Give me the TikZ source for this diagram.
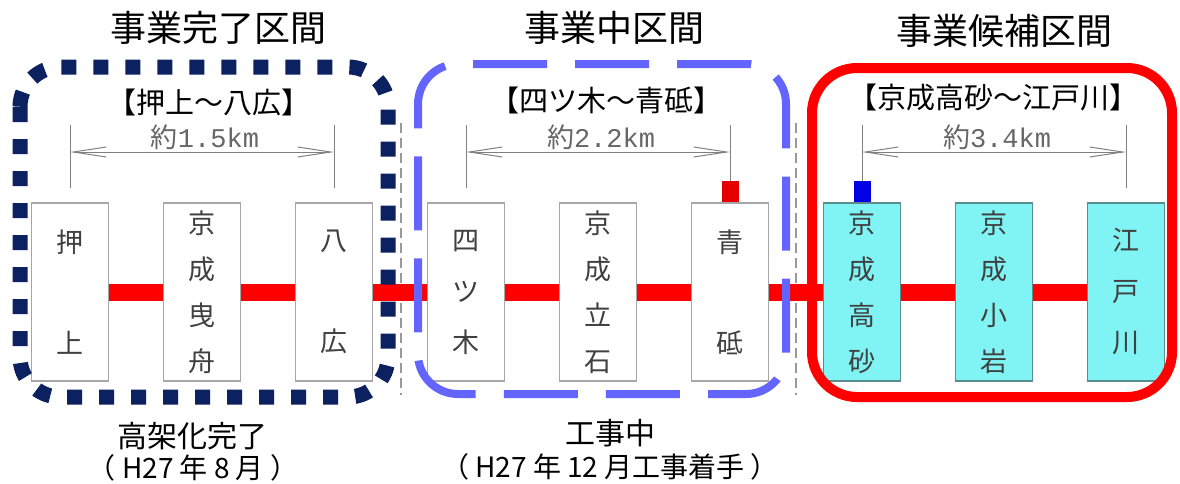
\documentclass[tikz,border=0pt]{standalone}
\usepackage{fontspec}
\setmainfont{Noto Sans CJK JP}
\newfontfamily\numfont{Liberation Mono}
\usetikzlibrary{arrows.meta}
\definecolor{navydot}{HTML}{0B2160}
\definecolor{workblue}{HTML}{6464FF}
\definecolor{candcyan}{HTML}{80F4F4}
\definecolor{candedge}{HTML}{5C8C8C}

\begin{document}
\begin{tikzpicture}[x=1pt,y=-1pt,
  stbox/.style={draw=black!35,line width=1.2pt,minimum width=77pt,minimum height=178pt,inner sep=0pt,align=center,text=black!75,font=\fontsize{27}{32}\selectfont},
  track/.style={red,line width=17pt},
  endsq/.style={draw=none,minimum width=17pt,minimum height=21pt,inner sep=0pt,anchor=south},
  dimline/.style={black!50,line width=1pt},
  dimarrow/.style={dimline,{Straight Barb[length=33pt,width=10pt]}-{Straight Barb[length=33pt,width=10pt]}},
  dimtext/.style={text=black!60,font=\fontsize{27}{30}\selectfont,inner sep=0pt,anchor=base},
  sectitle/.style={font=\fontsize{36}{40}\selectfont,inner sep=0pt},
  subtitle/.style={font=\fontsize{29}{32}\selectfont,inner sep=0pt},
  notetext/.style={font=\fontsize{30}{34}\selectfont,inner sep=0pt},
  datetext/.style={font=\fontsize{28}{32}\selectfont,inner sep=0pt},
  divline/.style={black!40,line width=1.2pt,dash pattern=on 10pt off 5pt}]
\useasboundingbox (0,0) rectangle (1180,483);

\draw[divline] (401,123) -- (401,395);
\draw[divline] (796,123) -- (796,395);

\foreach \n/\x/\t/\f/\d in{
1/70/{押\\[69pt]上}/white/black!35,
2/202/{京\\[14pt]成\\[14pt]曳\\[14pt]舟}/white/black!35,
3/334/{八\\[69pt]広}/white/black!35,
4/466/{四\\[19pt]ツ\\[19pt]木}/white/black!35,
5/598/{京\\[14pt]成\\[14pt]立\\[14pt]石}/white/black!35,
6/730/{青\\[69pt]砥}/white/black!35,
7/862/{京\\[14pt]成\\[14pt]高\\[14pt]砂}/candcyan/candedge,
8/994/{京\\[14pt]成\\[14pt]小\\[14pt]岩}/candcyan/candedge,
9/1126/{江\\[19pt]戸\\[19pt]川}/candcyan/candedge%
}
{
  \node[stbox,fill=\f,draw=\d] (s\n) at (\x,292) {\t};
}
\foreach \a/\b in {1/2,2/3,3/4,4/5,5/6,6/7,7/8,8/9}
  \draw[track] (s\a.east) -- (s\b.west);

\node[endsq,fill=red!90!black] (m6) at (s6.north) {};
\node[endsq,fill=blue!90!black] (m7) at (s7.north) {};

\foreach \n/\x in {1/70,3/334,4/466,6/730,7/862,9/1126}{
  \coordinate (q\n) at (\x,125);
  \coordinate (a\n) at (\x,152);
}
\foreach \n/\x in {1/70,3/334,4/466,9/1126}
  \coordinate (p\n) at (\x,188);
\coordinate (p6) at (m6.north);
\coordinate (p7) at (m7.north);
\foreach \n in {1,3,4,6,7,9}
  \draw[dimline] (p\n) -- (q\n);
\draw[dimarrow] (a1) -- (a3);
\draw[dimarrow] (a4) -- (a6);
\draw[dimarrow] (a7) -- (a9);
\node[dimtext] (d1) at (205,147) {約{\numfont 1.5km}};
\node[dimtext] (d2) at (601,147) {約{\numfont 2.2km}};
\node[dimtext] (d3) at (997,147) {約{\numfont 3.4km}};

\draw[navydot,line width=15pt,dash pattern=on 15pt off 17pt,rounded corners=40pt] (20,67) rectangle (388,397);
\draw[workblue,line width=8pt,dash pattern=on 74pt off 28.1pt,dash phase=87.1pt,rounded corners=40pt]
  (458,64) -- (786,64) -- (786,394) -- (418,394) -- (418,64) -- (458,64);
\draw[red,line width=10pt,rounded corners=45pt] (812,68) rectangle (1172,397);

\node[sectitle] (h1) at (218,28) {事業完了区間};
\node[sectitle] (h2) at (614,28) {事業中区間};
\node[sectitle] (h3) at (1004,31) {事業候補区間};
\node[subtitle] (k1) at (209,102) {【押上～八広】};
\node[subtitle] (k2) at (606,100) {【四ツ木～青砥】};
\node[subtitle] (k3) at (993,98) {【京成高砂～江戸川】};

\node[notetext] (n1) at (192,436) {高架化完了};
\node[datetext] (t1) at (193,468) {（ H27 年 8 月 ）};
\node[notetext] (n2) at (610,433) {工事中};
\node[datetext] (t2) at (610,467) {（ H27 年 12 月工事着手 ）};
\end{tikzpicture}
\end{document}
